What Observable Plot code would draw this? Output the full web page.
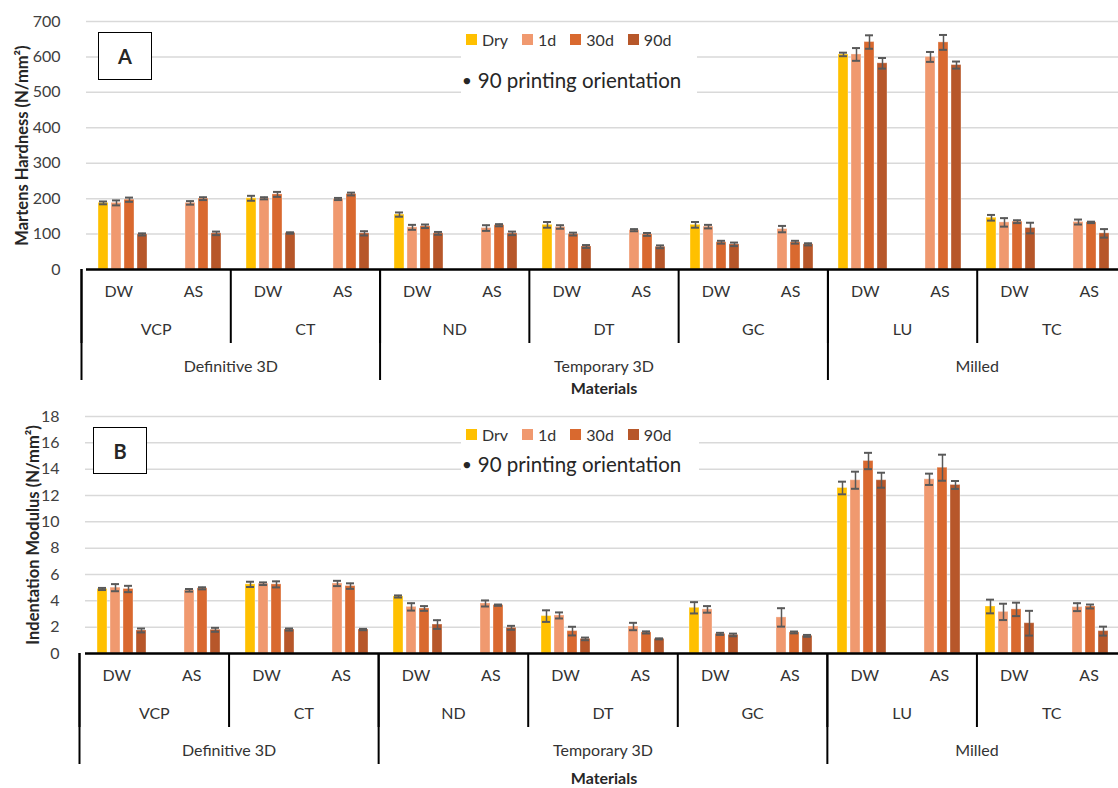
<!DOCTYPE html>
<html><head><meta charset="utf-8">
<script src="https://cdn.jsdelivr.net/npm/d3@7"></script>
<script src="https://cdn.jsdelivr.net/npm/@observablehq/plot@0.6"></script>
<style>
body{margin:0;background:#fff;font-family:Lato,sans-serif;}
#wrap{position:relative;width:1118px;height:788px;overflow:hidden;background:#fff;}
#wrap > *{position:absolute;left:0;}
[aria-label="y-axis label"]{font-weight:700;fill:#262626;font-size:16.5px;}
.legend{display:flex;align-items:center;font-size:16px;color:#333;height:16px;}
.legend .sw{width:11px;height:11px;margin-right:5px;}
.legend .it{display:flex;align-items:center;margin-right:14px;}
.note{box-sizing:border-box;background:#fff;font-size:20.5px;color:#262626;display:flex;align-items:center;}
.panel{box-sizing:border-box;border:1.6px solid #000;background:#fff;font-weight:700;font-size:20px;display:flex;align-items:center;justify-content:center;color:#262626;}
.xtitle{font-weight:700;font-size:16px;color:#262626;width:200px;text-align:center;}
</style></head><body><div id="wrap"></div>
<script>
// ---- categories ----
const materials = ["VCP","CT","ND","DT","GC","LU","TC"];
const materialTypes = ["Definitive 3D","Definitive 3D","Temporary 3D","Temporary 3D","Temporary 3D","Milled","Milled"];
const surfaces = ["DW","AS"];
const series = ["Dry","1d","30d","90d"];
const seriesColors = ["#FFC000","#F0996F","#D9692F","#B7572A"];

// group order: VCP DW, VCP AS, CT DW, CT AS, ND DW, ND AS, DT DW, DT AS, GC DW, GC AS, LU DW, LU AS, TC DW, TC AS
// ---- Panel A: Martens Hardness (N/mm2) ----
const hmDry  = [188,null,201,null,155,null,126,null,126,null,607,null,146,null];
const hm1d   = [188,188,201,199,119,117,120,111,121,114,607,600,133,134];
const hm30d  = [197,200,212,213,122,125,100,99,77,77,642,641,135,133];
const hm90d  = [99,102,103,102,102,102,65,64,71,71,582,577,117,102];
const hmDryErr = [4,null,7,null,6,null,8,null,8,null,5,null,8,null];
const hm1dErr  = [7,5,3,3,7,8,5,3,5,9,18,14,12,7];
const hm30dErr = [6,4,7,4,5,3,4,4,4,4,19,21,4,2];
const hm90dErr = [3,5,2,6,4,5,4,4,5,3,15,10,15,12];
const hmTicks = [0,100,200,300,400,500,600,700];

// ---- Panel B: Indentation Modulus (N/mm2) ----
const imDry  = [4.9,null,5.25,null,4.33,null,2.84,null,3.47,null,12.57,null,3.57,null];
const im1d   = [5.0,4.8,5.3,5.32,3.54,3.8,2.89,2.05,3.35,2.74,13.16,13.23,3.16,3.52];
const im30d  = [4.9,4.95,5.25,5.12,3.42,3.67,1.7,1.6,1.49,1.6,14.62,14.11,3.35,3.57];
const im90d  = [1.75,1.8,1.82,1.82,2.2,1.95,1.11,1.11,1.41,1.34,13.16,12.8,2.3,1.7];
const imDryErr = [0.08,null,0.2,null,0.08,null,0.44,null,0.43,null,0.48,null,0.52,null];
const im1dErr  = [0.27,0.1,0.1,0.2,0.28,0.23,0.23,0.28,0.25,0.7,0.65,0.43,0.62,0.3];
const im30dErr = [0.24,0.08,0.23,0.21,0.18,0.05,0.33,0.08,0.08,0.07,0.62,0.99,0.51,0.15];
const im90dErr = [0.15,0.15,0.08,0.05,0.33,0.15,0.1,0.04,0.1,0.07,0.57,0.3,0.94,0.34];
const imTicks = [0,2,4,6,8,10,12,14,16,18];

const groupKeys = materials.flatMap(m => surfaces.map(s => m + " " + s));

function buildRows(vals, errs) {
  const out = [];
  groupKeys.forEach((g, i) => {
    series.forEach((s, j) => {
      const v = vals[j][i];
      if (v != null) out.push({group: g, series: s, value: v, err: errs[j][i]});
    });
  });
  return out;
}

const W = 1118;
const wrap = document.getElementById("wrap");

function barsPlot({rows, ticks, label, height, marginLeft, labelOffset}) {
  return Plot.plot({
    width: W, height, marginTop: 21, marginBottom: 2, marginLeft, marginRight: -8,
    style: {background: "transparent", overflow: "visible", fontFamily: "Lato", fontSize: "16px"},
    fx: {domain: groupKeys, padding: 0, axis: null},
    x: {domain: series, paddingInner: 0.2, paddingOuter: 0.82, axis: null},
    y: {domain: [ticks[0], ticks[ticks.length - 1]], axis: null},
    color: {domain: series, range: seriesColors},
    marks: [
      Plot.gridY(ticks, {stroke: "#d9d9d9", strokeOpacity: 1, strokeWidth: 1.5}),
      Plot.barY(rows, {fx: "group", x: "series", y: "value", fill: "series", stroke: "#fff", strokeOpacity: 0.35, strokeWidth: 1}),
      Plot.ruleX(rows, {fx: "group", x: "series", y1: d => d.value - d.err, y2: d => d.value + d.err, stroke: "#595959", strokeWidth: 1.5}),
      Plot.tickY(rows, {fx: "group", x: "series", y: d => d.value - d.err, stroke: "#595959", strokeWidth: 2, insetLeft: 1, insetRight: 1}),
      Plot.tickY(rows, {fx: "group", x: "series", y: d => d.value + d.err, stroke: "#595959", strokeWidth: 2, insetLeft: 1, insetRight: 1}),
      Plot.ruleY([0], {stroke: "#000", strokeWidth: 2.5}),
      Plot.axisY(ticks, {tickSize: 0, tickPadding: 26, line: true, stroke: "#000", strokeWidth: 2, fill: "#404040",
        label, labelAnchor: "center", labelOffset, labelArrow: "none"})
    ]
  });
}

function axisPlot({marginLeft}) {
  const subRows = groupKeys.map((k, i) => ({pos: i + 0.5, text: surfaces[i % surfaces.length]}));
  const matRows = materials.map((m, i) => ({pos: i * surfaces.length + surfaces.length / 2, text: m}));
  const matEdges = d3.range(materials.length + 1).map(i => i * surfaces.length);
  const typeNames = Array.from(new Set(materialTypes));
  const typeRows = typeNames.map(t => {
    const first = materialTypes.indexOf(t);
    const count = materialTypes.filter(x => x === t).length;
    return {start: first * surfaces.length, pos: (first + count / 2) * surfaces.length, text: t};
  });
  const typeEdges = typeRows.map(d => d.start).concat([materials.length * surfaces.length]);
  return Plot.plot({
    width: W, height: 114, marginTop: 0, marginBottom: 0, marginLeft, marginRight: -8,
    style: {background: "transparent", overflow: "visible", fontFamily: "Lato", fontSize: "16px", color: "#333"},
    x: {domain: [0, groupKeys.length], axis: null},
    y: {domain: [0, 3], range: [0, 111], axis: null},
    marks: [
      Plot.ruleX(matEdges, {y1: 0, y2: 2, stroke: "#000", strokeWidth: 2}),
      Plot.ruleX(typeEdges, {y1: 0, y2: 3, stroke: "#000", strokeWidth: 2}),
      Plot.text(subRows, {x: "pos", y: 0.5, dy: 4, text: "text", fill: "#333"}),
      Plot.text(matRows, {x: "pos", y: 1.5, dy: 5, text: "text", fill: "#333"}),
      Plot.text(typeRows, {x: "pos", y: 2.5, dy: 5, text: "text", fill: "#333"})
    ]
  });
}

function place(el, top, left) { el.style.top = top + "px"; if (left != null) el.style.left = left + "px"; wrap.appendChild(el); return el; }
function div(cls, html) { const d = document.createElement("div"); d.className = cls; d.innerHTML = html; return d; }
function legend() {
  const d = div("legend", "");
  series.forEach((s, i) => {
    const it = div("it", `<span class="sw" style="background:${seriesColors[i]}"></span><span>${s}</span>`);
    d.appendChild(it);
  });
  return d;
}
const noteHtml = "<span style='font-size:13px;margin:0 7px 0 2px'>●</span>90 printing orientation";

const rowsA = buildRows([hmDry, hm1d, hm30d, hm90d], [hmDryErr, hm1dErr, hm30dErr, hm90dErr]);
const rowsB = buildRows([imDry, im1d, im30d, im90d], [imDryErr, im1dErr, im30dErr, im90dErr]);

// Panel A
place(barsPlot({rows: rowsA, ticks: hmTicks, label: "Martens Hardness (N/mm²)", height: 271, marginLeft: 81, labelOffset: 70}), 0);
place(axisPlot({marginLeft: 81}), 269);
place(div("xtitle", "Materials"), 378, 504);
place(legend(), 31, 466);
const noteA = place(div("note", noteHtml), 56, 461);
noteA.style.width = "236px"; noteA.style.height = "37px"; noteA.style.paddingTop = "10px";
const pA = place(div("panel", "A"), 32, 98); pA.style.width = "54px"; pA.style.height = "48px";

// Panel B
place(barsPlot({rows: rowsB, ticks: imTicks, label: "Indentation Modulus (N/mm²)", height: 260, marginLeft: 79, labelOffset: 58}), 395);
place(axisPlot({marginLeft: 79}), 653);
place(legend(), 426, 466);
const noteB = place(div("note", noteHtml), 441, 461);
noteB.style.width = "238px"; noteB.style.height = "31px"; noteB.style.paddingTop = "14px";
const pB = place(div("panel", "B"), 427, 93); pB.style.width = "54px"; pB.style.height = "47px";
place(div("xtitle", "Materials"), 768, 504);
</script></body></html>
